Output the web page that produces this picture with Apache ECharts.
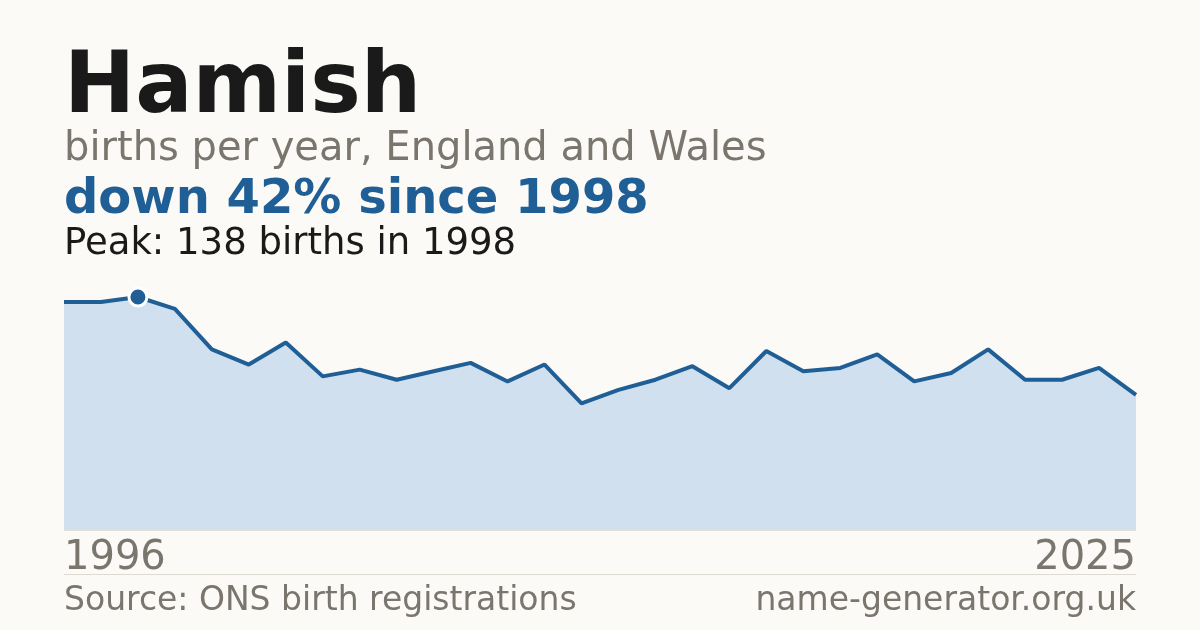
<!DOCTYPE html>
<html>
<head>
<meta charset="utf-8">
<style>
  html, body { margin: 0; padding: 0; background: #fbfaf6; }
  #main { width: 1200px; height: 630px; }
</style>
<script src="https://cdn.jsdelivr.net/npm/echarts@6/dist/echarts.min.js"></script>
</head>
<body>
<div id="main"></div>
<script>
// births per year for "Hamish"
var years = ['1996','1997','1998','1999','2000','2001','2002','2003','2004','2005',
             '2006','2007','2008','2009','2010','2011','2012','2013','2014','2015',
             '2016','2017','2018','2019','2020','2021','2022','2023','2024','2025'];
var births = [135, 135, 138, 131, 107, 98, 111, 91, 95, 89,
              94, 99, 88, 98, 75, 83, 89, 97, 84, 106,
              94, 96, 104, 88, 93, 107, 89, 89, 96, 80];

var peakIdx = births.indexOf(Math.max.apply(null, births));
var font = 'DejaVu Sans';
var blue = '#1f5f96';
var grey = '#7a756d';

var myChart = echarts.init(document.getElementById('main'));
myChart.setOption({
    backgroundColor: '#fbfaf6',
    animation: false,
    grid: { left: 64, right: 64, top: 297, bottom: 100 },
    xAxis: {
        type: 'category',
        data: years,
        boundaryGap: false,
        axisTick: { show: false },
        axisLine: { show: true, lineStyle: { color: '#e2dfd7', width: 1 } },
        axisLabel: {
            interval: function (i) { return i === 0 || i === years.length - 1; },
            alignMinLabel: 'left',
            alignMaxLabel: 'right',
            color: grey,
            fontFamily: font,
            fontSize: 40,
            margin: 9
        },
        splitLine: { show: false }
    },
    yAxis: {
        type: 'value',
        min: 0,
        max: 'dataMax',
        show: false
    },
    series: [
        {
            type: 'line',
            data: births,
            showSymbol: false,
            lineStyle: { color: blue, width: 4 },
            areaStyle: { color: '#d0e0ef', opacity: 1 },
            z: 2
        },
        {
            type: 'scatter',
            data: [[peakIdx, births[peakIdx]]],
            symbol: 'circle',
            symbolSize: 18,
            itemStyle: { color: blue, borderColor: '#ffffff', borderWidth: 3, opacity: 1 },
            z: 5
        }
    ],
    graphic: [
        { type: 'text', left: 64, top: 47,
          style: { text: 'Hamish', font: 'bold 85px "DejaVu Sans"', fill: '#1a1a1a' } },
        { type: 'text', left: 64, top: 130,
          style: { text: 'births per year, England and Wales', font: '40px "DejaVu Sans"', fill: grey } },
        { type: 'text', left: 64, top: 177,
          style: { text: 'down 42% since 1998', font: 'bold 48px "DejaVu Sans"', fill: blue } },
        { type: 'text', left: 64, top: 226,
          style: { text: 'Peak: 138 births in 1998', font: '37px "DejaVu Sans"', fill: '#1a1a1a' } },
        { type: 'line', shape: { x1: 64, y1: 574.5, x2: 1136, y2: 574.5 },
          style: { stroke: '#dddad2', lineWidth: 1 } },
        { type: 'text', left: 64, top: 585,
          style: { text: 'Source: ONS birth registrations', font: '33px "DejaVu Sans"', fill: grey } },
        { type: 'text', right: 64, top: 585,
          style: { text: 'name-generator.org.uk', font: '33px "DejaVu Sans"', fill: grey } }
    ]
});
</script>
</body>
</html>
